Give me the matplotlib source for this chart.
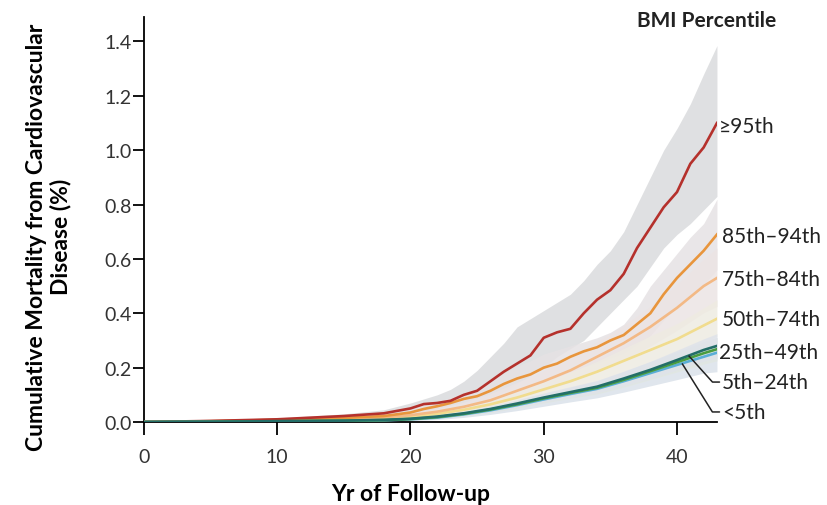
import matplotlib
matplotlib.use('Agg')
import matplotlib.pyplot as plt

plt.rcParams['font.family'] = ['Lato', 'DejaVu Sans']

# years of follow-up where the curves were read
years = [0, 5, 10, 15, 18, 20, 22, 24, 26, 28, 30, 32, 34, 36, 38, 40, 42, 43]
# finer reading for the two top groups
years_fine = [0, 5, 10, 15, 18, 20, 21, 22, 23, 24, 25, 26, 27, 28, 29, 30, 31,
              32, 33, 34, 35, 36, 37, 38, 39, 40, 41, 42, 43]

# cumulative mortality (%) per BMI percentile group, with 95% bands
p95 = [0, 0.004, 0.010, 0.022, 0.032, 0.050, 0.066, 0.070, 0.078, 0.100, 0.115, 0.150, 0.185, 0.215,
       0.245, 0.310, 0.330, 0.343, 0.400, 0.450, 0.485, 0.545, 0.640, 0.715, 0.790, 0.846, 0.950, 1.010, 1.100]
p95_hi = [0, 0.007, 0.015, 0.030, 0.045, 0.070, 0.085, 0.100, 0.120, 0.150, 0.190, 0.240, 0.290, 0.350,
          0.380, 0.410, 0.440, 0.470, 0.520, 0.580, 0.630, 0.700, 0.800, 0.900, 1.000, 1.080, 1.170, 1.280, 1.385]
p95_lo = [0, 0.002, 0.006, 0.015, 0.022, 0.030, 0.040, 0.045, 0.050, 0.060, 0.070, 0.090, 0.110, 0.140,
          0.170, 0.200, 0.240, 0.270, 0.300, 0.350, 0.400, 0.450, 0.500, 0.570, 0.640, 0.690, 0.730, 0.780, 0.830]

p85 = [0, 0.003, 0.008, 0.015, 0.022, 0.035, 0.048, 0.058, 0.070, 0.085, 0.095, 0.115, 0.140, 0.160,
       0.175, 0.200, 0.215, 0.240, 0.260, 0.275, 0.300, 0.320, 0.360, 0.400, 0.470, 0.530, 0.580, 0.630, 0.690]
p85_hi = [0, 0.005, 0.012, 0.021, 0.030, 0.050, 0.064, 0.076, 0.090, 0.108, 0.125, 0.150, 0.180, 0.205,
          0.225, 0.250, 0.265, 0.280, 0.295, 0.310, 0.330, 0.360, 0.420, 0.500, 0.560, 0.620, 0.680, 0.730, 0.820]
p85_lo = [0, 0.001, 0.005, 0.010, 0.015, 0.024, 0.034, 0.042, 0.052, 0.064, 0.071, 0.086, 0.105, 0.121,
          0.132, 0.152, 0.165, 0.185, 0.202, 0.215, 0.235, 0.252, 0.285, 0.318, 0.375, 0.425, 0.465, 0.505, 0.560]

p75 = [0, 0.002, 0.006, 0.012, 0.017, 0.025, 0.038, 0.056, 0.080, 0.115, 0.150, 0.190, 0.240, 0.290, 0.350, 0.420, 0.500, 0.530]
p75_hi = [0, 0.004, 0.009, 0.017, 0.024, 0.034, 0.050, 0.073, 0.104, 0.146, 0.188, 0.236, 0.296, 0.355, 0.425, 0.505, 0.600, 0.640]
p75_lo = [0, 0.001, 0.004, 0.008, 0.011, 0.017, 0.027, 0.041, 0.059, 0.087, 0.115, 0.147, 0.188, 0.229, 0.279, 0.337, 0.402, 0.425]

p50 = [0, 0.002, 0.005, 0.009, 0.014, 0.020, 0.030, 0.045, 0.065, 0.090, 0.120, 0.150, 0.185, 0.225, 0.265, 0.305, 0.355, 0.380]
p50_hi = [0, 0.003, 0.007, 0.013, 0.019, 0.027, 0.039, 0.057, 0.081, 0.111, 0.147, 0.183, 0.223, 0.270, 0.317, 0.362, 0.420, 0.450]
p50_lo = [0, 0.001, 0.003, 0.006, 0.010, 0.014, 0.022, 0.034, 0.050, 0.070, 0.094, 0.118, 0.148, 0.181, 0.215, 0.250, 0.292, 0.315]

p25 = [0, 0.001, 0.003, 0.005, 0.008, 0.012, 0.020, 0.032, 0.048, 0.068, 0.090, 0.110, 0.130, 0.160, 0.192, 0.228, 0.265, 0.280]
p25_hi = [0, 0.002, 0.004, 0.007, 0.011, 0.016, 0.026, 0.040, 0.059, 0.082, 0.107, 0.130, 0.153, 0.187, 0.223, 0.264, 0.306, 0.325]
p25_lo = [0, 0.001, 0.002, 0.003, 0.005, 0.008, 0.014, 0.024, 0.037, 0.054, 0.073, 0.090, 0.107, 0.133, 0.161, 0.192, 0.224, 0.235]

p5 = [0, 0.001, 0.003, 0.005, 0.007, 0.011, 0.018, 0.030, 0.046, 0.065, 0.087, 0.107, 0.126, 0.155, 0.187, 0.220, 0.253, 0.268]
p5_hi = [0, 0.002, 0.004, 0.007, 0.010, 0.015, 0.024, 0.038, 0.056, 0.078, 0.103, 0.126, 0.148, 0.182, 0.218, 0.256, 0.293, 0.310]
p5_lo = [0, 0.000, 0.002, 0.003, 0.004, 0.007, 0.012, 0.022, 0.035, 0.051, 0.070, 0.087, 0.103, 0.128, 0.156, 0.184, 0.213, 0.225]

lt5 = [0, 0.001, 0.002, 0.004, 0.006, 0.010, 0.016, 0.028, 0.043, 0.062, 0.083, 0.103, 0.122, 0.150, 0.180, 0.210, 0.240, 0.255]
lt5_hi = [0, 0.002, 0.004, 0.007, 0.010, 0.015, 0.024, 0.038, 0.056, 0.078, 0.103, 0.127, 0.150, 0.185, 0.222, 0.258, 0.296, 0.312]
lt5_lo = [0, 0.000, 0.001, 0.002, 0.003, 0.005, 0.009, 0.017, 0.028, 0.042, 0.058, 0.074, 0.089, 0.110, 0.133, 0.156, 0.180, 0.185]

groups = ['<5th', '5th\u201324th', '25th\u201349th', '50th\u201374th', '75th\u201384th', '85th\u201394th', '\u226595th']
series = [(years, lt5, lt5_lo, lt5_hi), (years, p5, p5_lo, p5_hi), (years, p25, p25_lo, p25_hi),
          (years, p50, p50_lo, p50_hi), (years, p75, p75_lo, p75_hi),
          (years_fine, p85, p85_lo, p85_hi), (years_fine, p95, p95_lo, p95_hi)]
line_colors = ['#5aaed6', '#4a9d3f', '#236e68', '#f1dc8e', '#f3b985', '#e8953c', '#b5312c']
band_colors = ['#dbe2ea', '#e0e6e2', '#dfe3ea', '#eeebe2', '#ece4e4', '#e6e2e4', '#dadbdd']

fig = plt.figure(figsize=(8.28, 5.06), dpi=100)
ax = fig.add_axes([0.1739, 0.164, 0.692, 0.8004])

# bands: red one on the bottom, then lighter ones
for i in [6, 5, 4, 3, 0, 1, 2]:
    x, mid, lo, hi = series[i]
    ax.fill_between(x, lo, hi, color=band_colors[i], alpha=0.85, lw=0, zorder=1)

for i in [3, 4, 5, 6, 0, 1, 2]:
    x, mid, lo, hi = series[i]
    ax.plot(x, mid, color=line_colors[i], lw=1.9, zorder=3)

ax.set_xlim(0, 43)
ax.set_ylim(0, 1.49)
ax.set_xticks([0, 10, 20, 30, 40])
ax.set_yticks([0.0, 0.2, 0.4, 0.6, 0.8, 1.0, 1.2, 1.4])
ax.set_yticklabels(['0.0', '0.2', '0.4', '0.6', '0.8', '1.0', '1.2', '1.4'])
for s in ['top', 'right']:
    ax.spines[s].set_visible(False)
for s in ['left', 'bottom']:
    ax.spines[s].set_linewidth(1.3)
ax.tick_params(axis='y', length=8, width=1.3, pad=1, labelsize=14, labelcolor='#333333')
ax.tick_params(axis='x', length=9, width=1.3, pad=10, labelsize=14, labelcolor='#333333')

ax.set_xlabel('Yr of Follow-up', fontsize=16.5, fontweight='bold')
ax.xaxis.set_label_coords(0.466, -0.15)
ax.set_ylabel('Cumulative Mortality from Cardiovascular\nDisease (%)', fontsize=16.5,
              fontweight='bold', linespacing=1.15)
ax.yaxis.set_label_coords(-0.127, 0.459)

ax.text(42.2, 1.478, 'BMI Percentile', fontsize=15, fontweight='bold', ha='center', va='center',
        color='#222222')

# right-hand labels
label_y = [0.037, 0.147, 0.258, 0.38, 0.527, 0.685, 1.09]
label_x = [43.4, 43.4, 43.15, 43.35, 43.35, 43.35, 43.15]
for i in [6, 5, 4, 3, 2]:
    ax.text(label_x[i], label_y[i], groups[i], fontsize=15, ha='left', va='center', color='#222222')
ax.annotate(groups[1], xy=(40.9, 0.243), xytext=(label_x[1], label_y[1]), fontsize=15, va='center',
            ha='left', color='#222222',
            arrowprops=dict(arrowstyle='-', color='#222222', lw=1.1, shrinkA=0, shrinkB=0,
                            relpos=(0, 0.5), connectionstyle='angle,angleA=0,angleB=-48,rad=0'))
ax.annotate(groups[0], xy=(40.4, 0.214), xytext=(label_x[0], label_y[0]), fontsize=15, va='center',
            ha='left', color='#222222',
            arrowprops=dict(arrowstyle='-', color='#222222', lw=1.1, shrinkA=0, shrinkB=0,
                            relpos=(0, 0.5), connectionstyle='angle,angleA=0,angleB=-58,rad=0'))

fig.savefig('out.png', dpi=100)
